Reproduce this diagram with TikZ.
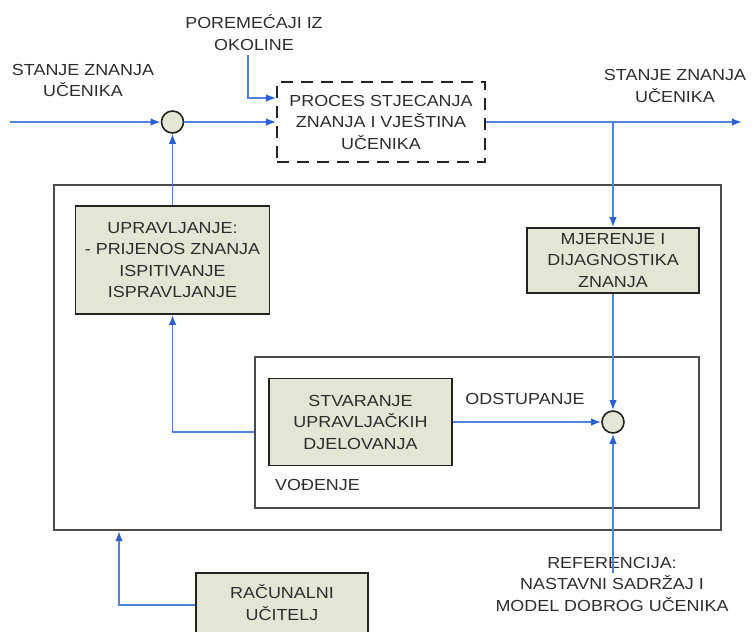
\documentclass[tikz,border=0pt]{standalone}
\usepackage{fontspec}
\setmainfont{Liberation Sans}[FakeStretch=1.12]
\usetikzlibrary{arrows.meta}

\definecolor{txt}{RGB}{45,45,45}
\definecolor{boxfill}{RGB}{229,229,214}
\definecolor{boxline}{RGB}{35,35,35}
\definecolor{framegray}{RGB}{75,75,75}
\definecolor{flowblue}{RGB}{80,130,215}
\definecolor{tipblue}{RGB}{40,95,210}

\begin{document}
\begin{tikzpicture}[x=1pt,y=-1pt,
  every node/.style={font=\fontsize{16}{21.5}\selectfont, text=txt, align=center, inner sep=0pt},
  block/.style={draw=boxline, line width=1.6pt, fill=boxfill},
  junction/.style={circle, draw=boxline, line width=1.6pt, fill=boxfill, minimum size=22pt},
  frame/.style={draw=framegray, line width=2.3pt},
  flow/.style={draw=flowblue, line width=1.6pt, -{Latex[length=10pt,width=7.5pt,color=tipblue]}},
]
\useasboundingbox (0,0) rectangle (753,632);

% outer control loop frame and the inner guidance frame
\node[frame, minimum width=667pt, minimum height=345pt] (ctrl) at (387.5,357.5) {};
\node[frame, line width=1.9pt, minimum width=444pt, minimum height=151pt] (guide) at (477,432.5) {};

% process under control
\node[draw=boxline, line width=1.8pt, dash pattern=on 12pt off 8pt,
      minimum width=208pt, minimum height=80pt] (proc) at (381,122)
  {PROCES STJECANJA\\ZNANJA I VJEŠTINA\\UČENIKA};

% blocks
\node[block, minimum width=194pt, minimum height=108pt] (upr) at (172.5,260)
  {UPRAVLJANJE:\\- PRIJENOS ZNANJA\\ISPITIVANJE\\ISPRAVLJANJE};
\node[block, minimum width=172pt, minimum height=65pt] (meas) at (613,260.5)
  {MJERENJE I\\DIJAGNOSTIKA\\ZNANJA};
\node[block, minimum width=183pt, minimum height=87pt] (gen) at (360.5,422)
  {STVARANJE\\UPRAVLJAČKIH\\DJELOVANJA};
\node[block, minimum width=172pt, minimum height=80pt] (teacher) at (282,613) {};
\node (teacherlabel) at (282,602.5) {RAČUNALNI\\UČITELJ};

% summing junctions
\node[junction] (c1) at (172.5,122) {};
\node[junction] (c2) at (613,422) {};

% free texts
\node (inlabel) at (83,80.5) {STANJE ZNANJA\\UČENIKA};
\node (distlabel) at (254,32.5) {POREMEĆAJI IZ\\OKOLINE};
\node (outlabel) at (675,86) {STANJE ZNANJA\\UČENIKA};
\node (devlabel) at (525,399) {ODSTUPANJE};
\node[anchor=west] (guidelabel) at (275,485) {VOĐENJE};
\node (reflabel) at (612,584) {REFERENCIJA:\\NASTAVNI SADRŽAJ I\\MODEL DOBROG UČENIKA};

% free ends of connectors
\coordinate (in) at (10,122);
\coordinate (dtop) at (248,55);
\coordinate (dturn) at (248,98);
\coordinate (branch) at (613,122);
\coordinate (out) at (742,122);
\coordinate (refend) at (613,573);
\coordinate (tcorner) at (119,605);

% connectors
\draw[flow] (in) -- (c1);
\draw[flow] (c1) -- (c1 -| proc.west);
\draw[flow] (dtop) -- (dturn) -- (dturn -| proc.west);
\draw[flow] (proc.east |- out) -- (out);
\draw[flow] (branch) -- (meas.north);
\draw[flow] (meas.south) -- (c2.north);
\draw[flow] (refend) -- (c2.south);
\draw[flow] (gen.east) -- (c2.west);
\draw[flow] (guide.west |- 0,432) -| (upr.south);
\draw[flow] (upr.north) -- (c1.south);
\draw[flow] (teacher.west |- tcorner) -- (tcorner) -- (tcorner |- ctrl.south);
\end{tikzpicture}
\end{document}
